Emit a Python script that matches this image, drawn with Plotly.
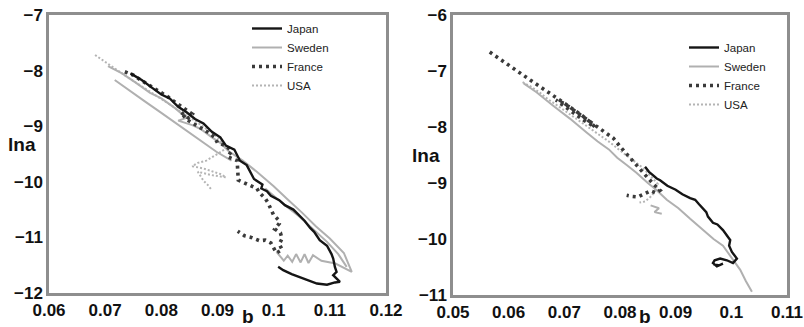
import plotly.graph_objects as go

N = None  # segment break

# ---------------- Left panel data ----------------
L_japan_b = [0.0745, 0.0765, 0.0785, 0.08, 0.0815, 0.083, 0.0845, 0.086, 0.0875, 0.089, 0.0905,
             0.0915, 0.093, 0.094, 0.0952, 0.0965, 0.098, 0.0978, 0.0988, 0.0995, 0.101, 0.102,
             0.1035, 0.1047, 0.1055, 0.1065, 0.1072, 0.1082, 0.1095, 0.1103, 0.1106, 0.1109,
             0.1112, 0.1106, 0.1118, 0.1109, 0.1095, 0.1077, 0.106, 0.1047, 0.1032, 0.1017, 0.1008]
L_japan_y = [-8.05, -8.17, -8.32, -8.43, -8.5, -8.65, -8.75, -8.87, -8.95, -9.1, -9.2,
             -9.35, -9.42, -9.62, -9.7, -9.95, -10.05, -10.12, -10.17, -10.25, -10.33, -10.42,
             -10.5, -10.63, -10.7, -10.83, -10.9, -11.05, -11.15, -11.3, -11.38, -11.53,
             -11.62, -11.68, -11.8, -11.81, -11.85, -11.83, -11.77, -11.71, -11.66, -11.59, -11.53]

L_sweden_b = [0.0705, 0.073, 0.0755, 0.078, 0.08, 0.0825, 0.0845, 0.083, 0.0855, 0.087, 0.089, 0.0905,
              0.092, 0.0945, 0.097, 0.1, 0.1025, 0.105, 0.1075, 0.11, 0.1125, 0.1139,
              0.111, 0.1085, 0.107, 0.1062, 0.1055, 0.1048, 0.104, 0.1033, 0.1025, 0.1018, 0.1005,
              N,
              0.0717, 0.074, 0.077, 0.08, 0.0833, 0.0868, 0.0898, 0.0925,
              N,
              0.0985, 0.1015, 0.1045, 0.107, 0.1095, 0.1115, 0.113]
L_sweden_y = [-7.92, -8.05, -8.22, -8.4, -8.5, -8.68, -8.85, -8.9, -8.98, -9.05, -9.2, -9.3,
              -9.45, -9.62, -9.82, -10.08, -10.32, -10.55, -10.8, -11.02, -11.28, -11.62,
              -11.47, -11.42, -11.32, -11.46, -11.3, -11.45, -11.3, -11.44, -11.33, -11.42, -11.26,
              N,
              -8.17, -8.34, -8.55, -8.76, -9.0, -9.25, -9.46, -9.62,
              N,
              -10.12, -10.38, -10.62, -10.85, -11.08, -11.3, -11.53]

L_france_b = [0.0735, 0.075, 0.0765, 0.078, 0.0795, 0.081, 0.0825, 0.084, 0.0855, 0.0848, 0.0835,
              0.0845, 0.086, 0.0875, 0.0885, 0.0895, 0.09, 0.0915, 0.0925, 0.0918, 0.0935,
              0.0937, 0.0955, 0.097, 0.0975, 0.0985, 0.099, 0.0995, 0.1, 0.1008, 0.101, 0.1002,
              0.1012, 0.1015, 0.101, 0.1015, 0.1005, 0.0995, 0.0985, 0.0975, 0.096, 0.0948, 0.0936]
L_france_y = [-8.02, -8.08, -8.18, -8.27, -8.36, -8.46, -8.57, -8.68, -8.78, -8.85, -8.75,
              -8.88, -8.97, -9.05, -9.12, -9.2, -9.3, -9.35, -9.45, -9.55, -9.62,
              -9.97, -10.06, -10.12, -10.2, -10.3, -10.38, -10.5, -10.6, -10.68, -10.75, -10.85,
              -10.92, -11.02, -11.12, -11.22, -11.28, -11.1, -11.05, -11.06, -11.0, -10.97, -10.89]

L_usa_b = [0.0682, 0.07, 0.072, 0.074, 0.076, 0.078, 0.08, 0.082, 0.084, 0.086, 0.088, 0.0895,
           0.0905, 0.0915, 0.09, 0.088, 0.0865, 0.0855, 0.0875, 0.0895, 0.0905, 0.0915, 0.0903,
           0.089, 0.0865, 0.087, 0.0875, 0.0883, 0.089]
L_usa_y = [-7.72, -7.85, -7.98, -8.12, -8.25, -8.38, -8.5, -8.64, -8.78, -8.9, -9.05, -9.15,
           -9.25, -9.4, -9.5, -9.62, -9.66, -9.72, -9.76, -9.82, -9.86, -9.92, -9.9,
           -9.88, -9.82, -9.9, -9.98, -10.06, -10.15]

# ---------------- Right panel data ----------------
R_japan_b = [0.0845, 0.0852, 0.0858, 0.0866, 0.0872, 0.0885, 0.09, 0.0912, 0.0926, 0.0935, 0.0942,
             0.0949, 0.0955, 0.0958, 0.0967, 0.0975, 0.0982, 0.0985, 0.0993, 0.0998, 0.0996,
             0.1001, 0.101, 0.1003, 0.0992, 0.098, 0.097, 0.0967, 0.0974, 0.0985, 0.0978, 0.0968]
R_japan_y = [-8.71, -8.8, -8.85, -8.92, -8.95, -9.05, -9.12, -9.2, -9.27, -9.3, -9.38,
             -9.45, -9.52, -9.6, -9.71, -9.74, -9.8, -9.84, -9.95, -10.02, -10.12,
             -10.23, -10.35, -10.43, -10.38, -10.35, -10.38, -10.43, -10.49, -10.44, -10.47, -10.45]

R_sweden_b = [0.0627, 0.065, 0.068, 0.071, 0.074, 0.076, 0.078, 0.0795, 0.0812, 0.083, 0.085,
              0.0865, 0.0884, 0.0905, 0.0926, 0.0945, 0.0968, 0.0985, 0.0998, 0.1008, 0.1016,
              0.1026, 0.1037,
              N,
              0.0855, 0.087, 0.0862, 0.0875]
R_sweden_y = [-7.22, -7.38, -7.62, -7.85, -8.1, -8.26, -8.4, -8.55, -8.68, -8.82, -9.0,
              -9.12, -9.3, -9.45, -9.64, -9.8, -10.0, -10.12, -10.3, -10.42, -10.55,
              -10.75, -10.94,
              N,
              -9.4, -9.45, -9.52, -9.55]

R_france_b = [0.0566, 0.058, 0.0595, 0.061, 0.0625, 0.064, 0.0655, 0.067, 0.0685, 0.07, 0.0715,
              0.073, 0.0745, 0.0755, 0.0735, 0.071, 0.0685, 0.07, 0.072, 0.074, 0.0758, 0.077,
              0.0788, 0.0802, 0.0816, 0.083, 0.0845, 0.086, 0.0872, 0.0865, 0.0855, 0.0843, 0.0832,
              0.0822, 0.0812]
R_france_y = [-6.66, -6.76, -6.86, -6.97, -7.07, -7.17, -7.27, -7.37, -7.47, -7.57, -7.68,
              -7.78, -7.9, -8.0, -7.88, -7.7, -7.52, -7.58, -7.72, -7.86, -7.98, -8.06,
              -8.2, -8.37, -8.53, -8.7, -8.86, -9.02, -9.13, -9.18, -9.14, -9.2, -9.25,
              -9.24, -9.22]

R_usa_b = [0.0625, 0.064, 0.0655, 0.067, 0.0688, 0.0705, 0.072, 0.074, 0.076, 0.078, 0.08,
           0.082, 0.0835, 0.085, 0.0868, 0.0858, 0.0845, 0.0835]
R_usa_y = [-7.2, -7.28, -7.38, -7.5, -7.62, -7.74, -7.85, -7.98, -8.12, -8.26, -8.42,
           -8.56, -8.68, -8.82, -9.02, -9.22, -9.33, -9.35]

# ticks
L_xticks = [0.06, 0.07, 0.08, 0.09, 0.1, 0.11, 0.12]
L_xtext = ["0.06", "0.07", "0.08", "0.09", "0.1", "0.11", "0.12"]
L_yticks = [-7, -8, -9, -10, -11, -12]
R_xticks = [0.05, 0.06, 0.07, 0.08, 0.09, 0.1, 0.11]
R_xtext = ["0.05", "0.06", "0.07", "0.08", "0.09", "0.1", "0.11"]
R_yticks = [-6, -7, -8, -9, -10, -11]

names = ["Japan", "Sweden", "France", "USA"]
styles = {
    "Japan": dict(color="#151515", width=2.4, dash="solid"),
    "Sweden": dict(color="#b0b0b0", width=2.0, dash="solid"),
    "France": dict(color="#3a3a3a", width=3.6, dash="3px,4px"),
    "USA": dict(color="#b4b4b4", width=2.0, dash="2px,2px"),
}

fig = go.Figure()
left = {"Japan": (L_japan_b, L_japan_y), "Sweden": (L_sweden_b, L_sweden_y),
        "France": (L_france_b, L_france_y), "USA": (L_usa_b, L_usa_y)}
right = {"Japan": (R_japan_b, R_japan_y), "Sweden": (R_sweden_b, R_sweden_y),
         "France": (R_france_b, R_france_y), "USA": (R_usa_b, R_usa_y)}

order = ["USA", "Sweden", "France", "Japan"]
for n in order:
    x, y = left[n]
    fig.add_trace(go.Scatter(x=x, y=y, mode="lines", name=n, line=styles[n],
                             connectgaps=False, xaxis="x", yaxis="y", legend="legend",
                             legendrank=names.index(n) + 1))
for n in order:
    x, y = right[n]
    fig.add_trace(go.Scatter(x=x, y=y, mode="lines", name=n, line=styles[n],
                             connectgaps=False, xaxis="x2", yaxis="y2", legend="legend2",
                             legendrank=names.index(n) + 1))

tickfont = dict(family="Arial", size=17, color="#111111", weight="bold")
axis_common = dict(showline=True, mirror=True, linecolor="#8e8e8e", linewidth=2.5,
                   showgrid=False, zeroline=False, ticks="", automargin=False,
                   tickfont=tickfont)

legend_font = dict(family="Arial", size=11.5, color="#222222")
lab_font = dict(family="Arial", size=19, color="#111111", weight="bold")

fig.update_layout(
    width=804, height=327,
    margin=dict(l=0, r=0, t=0, b=0),
    paper_bgcolor="white", plot_bgcolor="white",
    font=dict(family="Arial", color="#111111"),
    xaxis=dict(domain=[49 / 804, 386 / 804], range=[0.06, 0.12], tickvals=L_xticks,
               ticktext=L_xtext, anchor="y", **axis_common),
    yaxis=dict(domain=[1 - 293 / 327, 1 - 15 / 327], range=[-12, -7], tickvals=L_yticks,
               anchor="x", **axis_common),
    xaxis2=dict(domain=[453 / 804, 787 / 804], range=[0.05, 0.11], tickvals=R_xticks,
                ticktext=R_xtext, anchor="y2", **axis_common),
    yaxis2=dict(domain=[1 - 295 / 327, 1 - 15 / 327], range=[-11, -6], tickvals=R_yticks,
                anchor="x2", **axis_common),
    legend=dict(x=247 / 804, y=1 - 14 / 327, xanchor="left", yanchor="top",
                bgcolor="rgba(0,0,0,0)", font=legend_font,
                tracegroupgap=0, itemwidth=30, traceorder="normal"),
    legend2=dict(x=684 / 804, y=1 - 33 / 327, xanchor="left", yanchor="top",
                 bgcolor="rgba(0,0,0,0)", font=legend_font,
                 tracegroupgap=0, itemwidth=30, traceorder="normal"),
    annotations=[
        dict(text="lna", x=22 / 804, y=1 - 144 / 327, xref="paper", yref="paper",
             xanchor="center", yanchor="middle", showarrow=False, font=lab_font),
        dict(text="b", x=248 / 804, y=1 - 316 / 327, xref="paper", yref="paper",
             xanchor="center", yanchor="middle", showarrow=False, font=lab_font),
        dict(text="lna", x=426 / 804, y=1 - 155 / 327, xref="paper", yref="paper",
             xanchor="center", yanchor="middle", showarrow=False, font=lab_font),
        dict(text="b", x=645 / 804, y=1 - 316 / 327, xref="paper", yref="paper",
             xanchor="center", yanchor="middle", showarrow=False, font=lab_font),
    ],
)

fig.write_html("out.html")
